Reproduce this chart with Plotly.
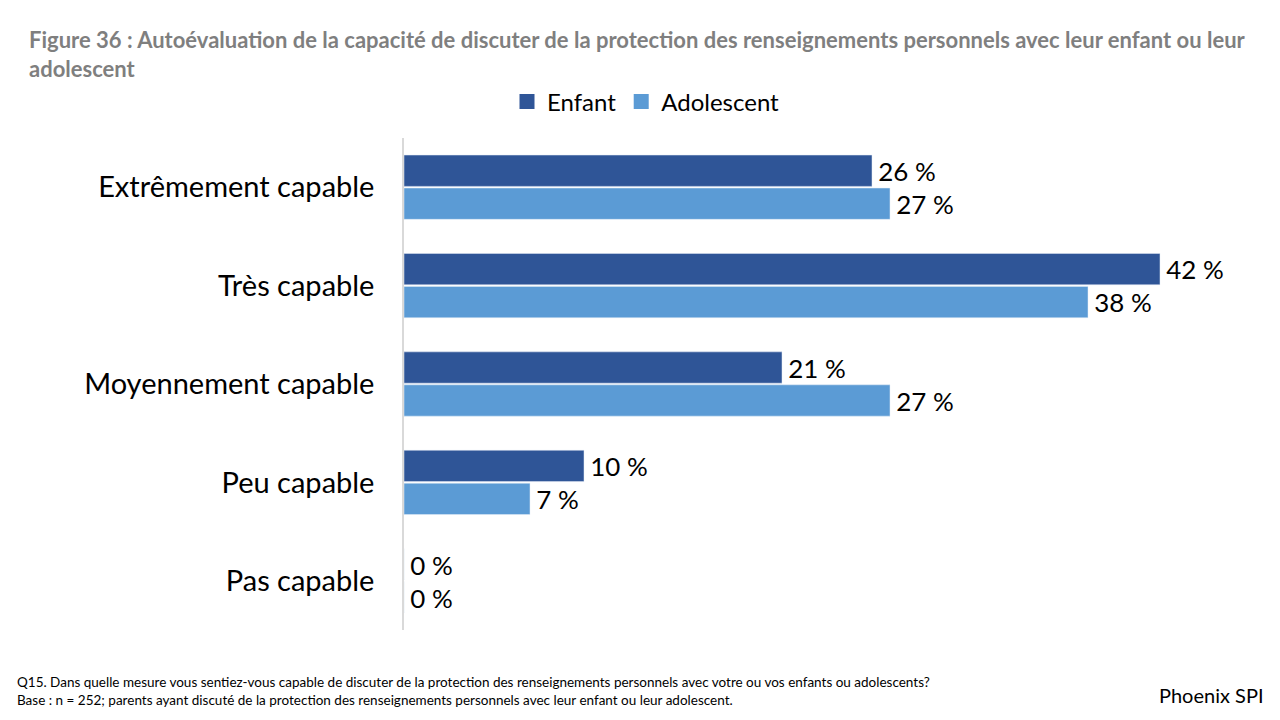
import plotly.graph_objects as go

categories = ["Extrêmement capable", "Très capable", "Moyennement capable", "Peu capable", "Pas capable"]
enfant = [26, 42, 21, 10, 0]
adolescent = [27, 38, 27, 7, 0]
series_names = ["Enfant", "Adolescent"]
colors = ["#2f5597", "#5b9bd5"]

FONT = "Lato"
W, H = 1280, 720
OFF = 8  # page body margin
L, R, T, B = 404 - OFF, 30 + OFF, 138 - OFF, 90 + OFF
pw = W - L - R
ph = H - T - B


def px(x):
    return (x - OFF - L) / pw


def py(y):
    return 1 - (y - OFF - T) / ph


def lab(v):
    # thin space in front gives the gap seen between bar end and label
    return f"\u2009{v} %"


fig = go.Figure()
for name, vals, col in zip(series_names, [enfant, adolescent], colors):
    fig.add_trace(go.Bar(
        y=categories, x=vals, name=name, orientation="h",
        marker_color=col, showlegend=False, legendgroup=name,
        text=[lab(v) for v in vals], textposition="outside",
        textfont=dict(size=29, color="black", family=FONT), cliponaxis=False,
    ))
# legend-only traces, for bigger square swatches
for name, col in zip(series_names, colors):
    fig.add_trace(go.Scatter(
        x=[None], y=[None], mode="markers", name=name, legendgroup=name,
        marker=dict(symbol="square", size=15, color=col),
    ))

fig.update_layout(
    width=W, height=H, autosize=False,
    margin=dict(l=L, r=R, t=T, b=B),
    paper_bgcolor="white", plot_bgcolor="white",
    font=dict(family=FONT, color="black"),
    barmode="group", bargap=0.33, bargroupgap=0.05,
    showlegend=True,
    legend=dict(orientation="h", x=px(646), y=py(102), xanchor="center", yanchor="middle",
                font=dict(size=24, family=FONT), traceorder="normal",
                itemwidth=30),
)
fig.update_xaxes(range=[0, 47], visible=False, showgrid=False)
fig.update_yaxes(autorange="reversed", showline=True, linecolor="#d9d9d9", linewidth=1.5,
                 ticks="", tickfont=dict(size=29, family=FONT), ticklabelstandoff=22,
                 showgrid=False)

title = ("Figure 36 : Autoévaluation de la capacité de discuter de la protection des renseignements "
         "personnels avec leur enfant ou leur<br>adolescent")
fig.add_annotation(text=f"<b>{title}</b>", xref="paper", yref="paper", x=px(27), y=py(24),
                   xanchor="left", yanchor="top", showarrow=False, align="left",
                   font=dict(size=22, color="#7f7f7f", family=FONT))
foot = ("Q15. Dans quelle mesure vous sentiez-vous capable de discuter de la protection des renseignements "
        "personnels avec votre ou vos enfants ou adolescents?<br>Base : n = 252; parents ayant discuté de la "
        "protection des renseignements personnels avec leur enfant ou leur adolescent.")
fig.add_annotation(text=foot, xref="paper", yref="paper", x=px(15), y=py(672),
                   xanchor="left", yanchor="top", showarrow=False, align="left",
                   font=dict(size=13.5, color="black", family=FONT))
fig.add_annotation(text="Phoenix SPI", xref="paper", yref="paper", x=px(1266), y=py(695),
                   xanchor="right", yanchor="middle", showarrow=False,
                   font=dict(size=20, color="black", family=FONT))

fig.write_html("out.html")
